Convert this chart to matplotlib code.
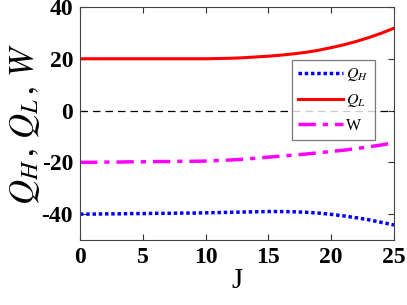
import matplotlib
matplotlib.use("Agg")
import matplotlib.pyplot as plt

J = list(range(26))
Q_H = [-40.0, -40.0, -39.9, -39.9, -39.8, -39.8, -39.7, -39.7, -39.6, -39.6, -39.5,
       -39.4, -39.3, -39.2, -39.1, -39.0, -39.0, -39.1, -39.3, -39.6, -40.1,
       -40.7, -41.4, -42.2, -43.2, -44.2]
Q_L = [20.0, 20.0, 20.0, 20.0, 20.0, 20.0, 20.0, 20.0, 20.0, 20.0, 20.0,
       20.1, 20.2, 20.4, 20.7, 21.0, 21.4, 21.9, 22.5, 23.3, 24.3,
       25.4, 26.7, 28.2, 29.9, 31.8]
W = [-20.0, -20.0, -19.9, -19.9, -19.8, -19.8, -19.7, -19.7, -19.6, -19.6, -19.5,
     -19.3, -19.1, -18.8, -18.4, -18.0, -17.6, -17.2, -16.8, -16.3, -15.8,
     -15.3, -14.7, -14.0, -13.3, -12.4]

plt.rcParams['mathtext.fontset'] = 'stix'
plt.rcParams['font.family'] = 'Liberation Serif'
plt.rcParams['axes.unicode_minus'] = False

fig = plt.figure(figsize=(4.07, 3.05), dpi=100)
ax = fig.add_axes([80/407, 1-240/305, (394-80)/407, (240-7)/305])

ax.axhline(0, color='black', lw=0.9, ls=(0, (6, 4)))
ax.plot(J, Q_H, color='blue', lw=2.5, ls=(0, (1, 0.8)), label='$Q_H$')
ax.plot(J, Q_L, color='red', lw=2.2, ls='-', label='$Q_L$')
ax.plot(J, W, color='magenta', lw=2.5, ls=(0, (5, 2, 1.5, 2)), label='W')

ax.set_xlim(0, 25)
ax.set_ylim(-50, 40)
ax.set_xticks([0, 5, 10, 15, 20, 25])
ax.set_yticks([-40, -20, 0, 20, 40])
ax.tick_params(direction='in', top=True, right=True, labelsize=17, length=4, width=0.8,
               color='#333333', pad=5)
for lbl in ax.get_xticklabels() + ax.get_yticklabels():
    lbl.set_fontweight('bold')
for s in ax.spines.values():
    s.set_color('#444444')
    s.set_linewidth(0.8)

ax.set_xlabel('J', fontsize=21, labelpad=0)
ax.set_ylabel('$Q_H\\,,\\,Q_L\\,,\\,W$', fontsize=25, labelpad=0)

leg = ax.legend(loc='upper left', bbox_to_anchor=((292-80)/314, 1-(60-7)/233),
                fontsize=11.5, frameon=True, fancybox=False, edgecolor='#555555',
                handlelength=2.8, borderpad=0.4, labelspacing=0.55, handletextpad=0.2,
                borderaxespad=0)
leg.get_frame().set_linewidth(0.9)

fig.savefig('out.png', dpi=100)
